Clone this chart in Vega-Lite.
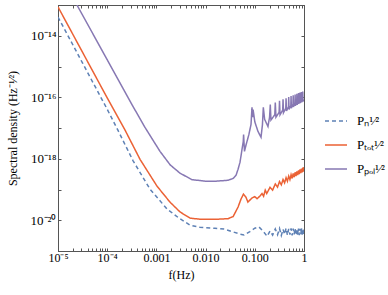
{
  "$schema": "https://vega.github.io/schema/vega-lite/v6.json",
  "width": 246,
  "height": 246,
  "autosize": {"type": "none"},
  "padding": {"left": 58, "top": 5, "right": 84, "bottom": 44},
  "background": "white",
  "config": {
    "font": "Liberation Serif",
    "view": {"stroke": "#555555", "strokeWidth": 1},
    "axis": {"grid": false, "domain": true, "domainColor": "#555555", "domainWidth": 1, "tickColor": "#555555", "labelColor": "black", "titleColor": "black", "labelFont": "Liberation Serif", "titleFont": "Liberation Serif", "labelFontSize": 12, "titleFontSize": 12, "titleFontWeight": "normal", "tickSize": -3, "labelOverlap": false, "labelFlush": false}
  },
  "data": {"values": [
    {"s": "Pn", "f": 1e-5, "P": 4.07e-14},
    {"s": "Pn", "f": 3.162e-5, "P": 1.288e-15},
    {"s": "Pn", "f": 1e-4, "P": 4.07e-17},
    {"s": "Pn", "f": 1.66e-4, "P": 8.32e-18},
    {"s": "Pn", "f": 3.34e-4, "P": 8.71e-19},
    {"s": "Pn", "f": 7.41e-4, "P": 1.023e-19},
    {"s": "Pn", "f": 1.64e-3, "P": 2.34e-20},
    {"s": "Pn", "f": 2.88e-3, "P": 1.175e-20},
    {"s": "Pn", "f": 4.82e-3, "P": 6.92e-21},
    {"s": "Pn", "f": 7.69e-3, "P": 5.89e-21},
    {"s": "Pn", "f": 1.55e-2, "P": 5.5e-21},
    {"s": "Pn", "f": 2.45e-2, "P": 5.13e-21},
    {"s": "Pn", "f": 3.47e-2, "P": 4.27e-21},
    {"s": "Pn", "f": 5.01e-2, "P": 3.55e-21},
    {"s": "Pn", "f": 6.03e-2, "P": 3.31e-21},
    {"s": "Pn", "f": 7.94e-2, "P": 4.27e-21},
    {"s": "Pn", "f": 0.1, "P": 5.5e-21},
    {"s": "Pn", "f": 0.1216, "P": 6.03e-21},
    {"s": "Pn", "f": 0.147, "P": 4.47e-21},
    {"s": "Pn", "f": 0.178, "P": 3.02e-21},
    {"s": "Pn", "f": 0.204, "P": 4.47e-21},
    {"s": "Pn", "f": 0.23, "P": 3.3e-21},
    {"s": "Pn", "f": 0.261, "P": 5.2e-21},
    {"s": "Pn", "f": 0.29, "P": 3.4e-21},
    {"s": "Pn", "f": 0.318, "P": 5.4e-21},
    {"s": "Pn", "f": 0.346, "P": 3.2e-21},
    {"s": "Pn", "f": 0.375, "P": 5.1e-21},
    {"s": "Pn", "f": 0.403, "P": 3.5e-21},
    {"s": "Pn", "f": 0.432, "P": 5.5e-21},
    {"s": "Pn", "f": 0.46, "P": 3.3e-21},
    {"s": "Pn", "f": 0.489, "P": 5.2e-21},
    {"s": "Pn", "f": 0.517, "P": 3.4e-21},
    {"s": "Pn", "f": 0.546, "P": 5.4e-21},
    {"s": "Pn", "f": 0.574, "P": 3.2e-21},
    {"s": "Pn", "f": 0.603, "P": 5.3e-21},
    {"s": "Pn", "f": 0.631, "P": 3.5e-21},
    {"s": "Pn", "f": 0.66, "P": 5.5e-21},
    {"s": "Pn", "f": 0.688, "P": 3.3e-21},
    {"s": "Pn", "f": 0.717, "P": 5.2e-21},
    {"s": "Pn", "f": 0.745, "P": 3.4e-21},
    {"s": "Pn", "f": 0.774, "P": 5.4e-21},
    {"s": "Pn", "f": 0.802, "P": 3.3e-21},
    {"s": "Pn", "f": 0.831, "P": 5.3e-21},
    {"s": "Pn", "f": 0.86, "P": 3.5e-21},
    {"s": "Pn", "f": 0.888, "P": 5.5e-21},
    {"s": "Pn", "f": 0.916, "P": 3.3e-21},
    {"s": "Pn", "f": 0.945, "P": 5.2e-21},
    {"s": "Pn", "f": 0.973, "P": 3.4e-21},
    {"s": "Pn", "f": 1.0, "P": 5.0e-21},

    {"s": "Ptot", "f": 1e-5, "P": 8.71e-14},
    {"s": "Ptot", "f": 3.162e-5, "P": 2.88e-15},
    {"s": "Ptot", "f": 1e-4, "P": 9.55e-17},
    {"s": "Ptot", "f": 2.29e-4, "P": 8.71e-18},
    {"s": "Ptot", "f": 4.65e-4, "P": 9.55e-19},
    {"s": "Ptot", "f": 1.028e-3, "P": 1.288e-19},
    {"s": "Ptot", "f": 1.888e-3, "P": 3.89e-20},
    {"s": "Ptot", "f": 3.02e-3, "P": 1.862e-20},
    {"s": "Ptot", "f": 4.82e-3, "P": 1.175e-20},
    {"s": "Ptot", "f": 7.94e-3, "P": 1.072e-20},
    {"s": "Ptot", "f": 1.585e-2, "P": 1.072e-20},
    {"s": "Ptot", "f": 2.85e-2, "P": 1.122e-20},
    {"s": "Ptot", "f": 3.63e-2, "P": 1.318e-20},
    {"s": "Ptot", "f": 4.57e-2, "P": 2.69e-20},
    {"s": "Ptot", "f": 5.25e-2, "P": 4.9e-20},
    {"s": "Ptot", "f": 5.89e-2, "P": 7.08e-20},
    {"s": "Ptot", "f": 6.61e-2, "P": 5.62e-20},
    {"s": "Ptot", "f": 7.24e-2, "P": 3.89e-20},
    {"s": "Ptot", "f": 8.71e-2, "P": 5.25e-20},
    {"s": "Ptot", "f": 0.1, "P": 5.89e-20},
    {"s": "Ptot", "f": 0.111, "P": 5.01e-20},
    {"s": "Ptot", "f": 0.126, "P": 6.03e-20},
    {"s": "Ptot", "f": 0.14, "P": 7.41e-20},
    {"s": "Ptot", "f": 0.151, "P": 6.03e-20},
    {"s": "Ptot", "f": 0.163, "P": 9.55e-20},
    {"s": "Ptot", "f": 0.175, "P": 7.41e-20},
    {"s": "Ptot", "f": 0.204, "P": 1.175e-19},
    {"s": "Ptot", "f": 0.23, "P": 9.55e-20},
    {"s": "Ptot", "f": 0.261, "P": 1.514e-19},
    {"s": "Ptot", "f": 0.29, "P": 1.202e-19},
    {"s": "Ptot", "f": 0.318, "P": 1.82e-19},
    {"s": "Ptot", "f": 0.346, "P": 1.413e-19},
    {"s": "Ptot", "f": 0.375, "P": 2.11e-19},
    {"s": "Ptot", "f": 0.403, "P": 1.64e-19},
    {"s": "Ptot", "f": 0.432, "P": 2.42e-19},
    {"s": "Ptot", "f": 0.46, "P": 1.862e-19},
    {"s": "Ptot", "f": 0.489, "P": 2.72e-19},
    {"s": "Ptot", "f": 0.517, "P": 2.09e-19},
    {"s": "Ptot", "f": 0.546, "P": 3.02e-19},
    {"s": "Ptot", "f": 0.574, "P": 2.29e-19},
    {"s": "Ptot", "f": 0.603, "P": 3.31e-19},
    {"s": "Ptot", "f": 0.631, "P": 2.51e-19},
    {"s": "Ptot", "f": 0.66, "P": 3.63e-19},
    {"s": "Ptot", "f": 0.688, "P": 2.72e-19},
    {"s": "Ptot", "f": 0.717, "P": 3.89e-19},
    {"s": "Ptot", "f": 0.745, "P": 2.95e-19},
    {"s": "Ptot", "f": 0.774, "P": 4.22e-19},
    {"s": "Ptot", "f": 0.802, "P": 3.16e-19},
    {"s": "Ptot", "f": 0.831, "P": 4.52e-19},
    {"s": "Ptot", "f": 0.86, "P": 3.39e-19},
    {"s": "Ptot", "f": 0.888, "P": 4.79e-19},
    {"s": "Ptot", "f": 0.916, "P": 3.59e-19},
    {"s": "Ptot", "f": 0.945, "P": 5.13e-19},
    {"s": "Ptot", "f": 0.973, "P": 3.8e-19},
    {"s": "Ptot", "f": 1.0, "P": 5.37e-19},

    {"s": "Ppol", "f": 2.43e-5, "P": 1.0e-13},
    {"s": "Ppol", "f": 1e-4, "P": 1.66e-15},
    {"s": "Ppol", "f": 3.162e-4, "P": 5.89e-17},
    {"s": "Ppol", "f": 5.86e-4, "P": 1.047e-17},
    {"s": "Ppol", "f": 1.183e-3, "P": 1.738e-18},
    {"s": "Ppol", "f": 1.905e-3, "P": 6.31e-19},
    {"s": "Ppol", "f": 3.02e-3, "P": 3.39e-19},
    {"s": "Ppol", "f": 5.3e-3, "P": 2.09e-19},
    {"s": "Ppol", "f": 0.01, "P": 1.862e-19},
    {"s": "Ppol", "f": 0.01585, "P": 1.862e-19},
    {"s": "Ppol", "f": 0.0285, "P": 1.995e-19},
    {"s": "Ppol", "f": 0.0363, "P": 2.29e-19},
    {"s": "Ppol", "f": 0.0417, "P": 2.95e-19},
    {"s": "Ppol", "f": 0.0457, "P": 4.57e-19},
    {"s": "Ppol", "f": 0.0501, "P": 7.76e-19},
    {"s": "Ppol", "f": 0.055, "P": 2.04e-18},
    {"s": "Ppol", "f": 0.0582, "P": 3.55e-18},
    {"s": "Ppol", "f": 0.0592, "P": 6.17e-18},
    {"s": "Ppol", "f": 0.0617, "P": 1.738e-18},
    {"s": "Ppol", "f": 0.0661, "P": 2.75e-18},
    {"s": "Ppol", "f": 0.0759, "P": 6.17e-18},
    {"s": "Ppol", "f": 0.0838, "P": 1.318e-17},
    {"s": "Ppol", "f": 0.0877, "P": 4.68e-17},
    {"s": "Ppol", "f": 0.0902, "P": 2.24e-17},
    {"s": "Ppol", "f": 0.0923, "P": 3.98e-17},
    {"s": "Ppol", "f": 0.1, "P": 1.585e-17},
    {"s": "Ppol", "f": 0.116, "P": 7.76e-18},
    {"s": "Ppol", "f": 0.1337, "P": 5.01e-18},
    {"s": "Ppol", "f": 0.1429, "P": 1.259e-17},
    {"s": "Ppol", "f": 0.149, "P": 4.68e-17},
    {"s": "Ppol", "f": 0.1585, "P": 1.905e-17},
    {"s": "Ppol", "f": 0.1854, "P": 1.122e-17},
    {"s": "Ppol", "f": 0.1995, "P": 2.24e-17},
    {"s": "Ppol", "f": 0.2065, "P": 5.75e-17},
    {"s": "Ppol", "f": 0.213, "P": 1.82e-17},
    {"s": "Ppol", "f": 0.255, "P": 2.69e-17},
    {"s": "Ppol", "f": 0.261, "P": 6.76e-17},
    {"s": "Ppol", "f": 0.269, "P": 2.25e-17},
    {"s": "Ppol", "f": 0.312, "P": 3.24e-17},
    {"s": "Ppol", "f": 0.318, "P": 7.67e-17},
    {"s": "Ppol", "f": 0.326, "P": 2.69e-17},
    {"s": "Ppol", "f": 0.369, "P": 3.8e-17},
    {"s": "Ppol", "f": 0.375, "P": 8.53e-17},
    {"s": "Ppol", "f": 0.383, "P": 3.13e-17},
    {"s": "Ppol", "f": 0.426, "P": 4.37e-17},
    {"s": "Ppol", "f": 0.432, "P": 9.35e-17},
    {"s": "Ppol", "f": 0.44, "P": 3.56e-17},
    {"s": "Ppol", "f": 0.483, "P": 4.9e-17},
    {"s": "Ppol", "f": 0.489, "P": 1.014e-16},
    {"s": "Ppol", "f": 0.497, "P": 3.99e-17},
    {"s": "Ppol", "f": 0.54, "P": 5.37e-17},
    {"s": "Ppol", "f": 0.546, "P": 1.089e-16},
    {"s": "Ppol", "f": 0.554, "P": 4.42e-17},
    {"s": "Ppol", "f": 0.597, "P": 5.96e-17},
    {"s": "Ppol", "f": 0.603, "P": 1.159e-16},
    {"s": "Ppol", "f": 0.611, "P": 4.83e-17},
    {"s": "Ppol", "f": 0.654, "P": 6.46e-17},
    {"s": "Ppol", "f": 0.66, "P": 1.23e-16},
    {"s": "Ppol", "f": 0.668, "P": 5.25e-17},
    {"s": "Ppol", "f": 0.711, "P": 7.08e-17},
    {"s": "Ppol", "f": 0.717, "P": 1.297e-16},
    {"s": "Ppol", "f": 0.725, "P": 5.66e-17},
    {"s": "Ppol", "f": 0.768, "P": 7.59e-17},
    {"s": "Ppol", "f": 0.774, "P": 1.361e-16},
    {"s": "Ppol", "f": 0.782, "P": 6.08e-17},
    {"s": "Ppol", "f": 0.825, "P": 8.13e-17},
    {"s": "Ppol", "f": 0.831, "P": 1.426e-16},
    {"s": "Ppol", "f": 0.839, "P": 6.49e-17},
    {"s": "Ppol", "f": 0.882, "P": 8.51e-17},
    {"s": "Ppol", "f": 0.888, "P": 1.489e-16},
    {"s": "Ppol", "f": 0.896, "P": 6.9e-17},
    {"s": "Ppol", "f": 0.939, "P": 9.12e-17},
    {"s": "Ppol", "f": 0.945, "P": 1.549e-16},
    {"s": "Ppol", "f": 0.953, "P": 7.31e-17},
    {"s": "Ppol", "f": 1.0, "P": 8.51e-17}
  ]},
  "layer": [
    {
      "mark": {"type": "line", "strokeWidth": 1.5, "clip": true},
      "encoding": {
        "x": {"field": "f", "type": "quantitative", "scale": {"type": "log", "domain": [0.00001, 1]},
          "axis": {"orient": "bottom", "title": "f(Hz)", "titlePadding": 6, "labelPadding": 4,
            "values": [0.00001, 0.00002, 0.00003, 0.00004, 0.00005, 0.00006, 0.00007, 0.00008, 0.00009, 0.0001, 0.0002, 0.0003, 0.0004, 0.0005, 0.0006, 0.0007, 0.0008, 0.0009, 0.001, 0.002, 0.003, 0.004, 0.005, 0.006, 0.007, 0.008, 0.009, 0.01, 0.02, 0.03, 0.04, 0.05, 0.06, 0.07, 0.08, 0.09, 0.1, 0.2, 0.3, 0.4, 0.5, 0.6, 0.7, 0.8, 0.9, 1],
            "labelExpr": "datum.value == 0.00001 ? '10⁻⁵' : datum.value == 0.0001 ? '10⁻⁴' : datum.value == 0.001 ? '0.001' : datum.value == 0.01 ? '0.010' : datum.value == 0.1 ? '0.100' : datum.value == 1 ? '1' : ''"}},
        "y": {"field": "P", "type": "quantitative", "scale": {"type": "log", "domain": [1e-21, 1e-13]},
          "axis": {"orient": "left", "title": "Spectral density (Hz⁻¹⁄²)", "titlePadding": 11, "labelPadding": 5, "labelFontSize": 13,
            "values": [1e-21, 1e-20, 1e-19, 1e-18, 1e-17, 1e-16, 1e-15, 1e-14, 1e-13],
            "labelExpr": "datum.value == 1e-14 ? '10⁻¹⁴' : datum.value == 1e-16 ? '10⁻¹⁶' : datum.value == 1e-18 ? '10⁻¹⁸' : datum.value == 1e-20 ? '10⁻²⁰' : ''"}},
        "color": {"field": "s", "type": "nominal",
          "scale": {"domain": ["Pn", "Ptot", "Ppol"], "range": ["#5E81B5", "#EB6235", "#8778B3"]},
          "legend": {"title": null, "orient": "none", "legendX": 266, "legendY": 104, "padding": 0, "symbolType": "stroke", "symbolSize": 484, "symbolStrokeWidth": 1.5, "rowPadding": 5, "labelFont": "Liberation Serif", "labelFontSize": 13, "labelOffset": 9, "labelColor": "black",
            "labelExpr": "datum.value == 'Pn' ? 'Pₙ¹⁄²' : datum.value == 'Ptot' ? 'Pₜₒₜ¹⁄²' : 'Pₚₒₗ¹⁄²'"}},
        "strokeDash": {"field": "s", "type": "nominal",
          "scale": {"domain": ["Pn", "Ptot", "Ppol"], "range": [[4, 3], [1, 0], [1, 0]]},
          "legend": {"title": null, "orient": "none", "legendX": 266, "legendY": 104, "padding": 0, "symbolType": "stroke", "symbolSize": 484, "symbolStrokeWidth": 1.5, "rowPadding": 5, "labelFont": "Liberation Serif", "labelFontSize": 13, "labelOffset": 9, "labelColor": "black",
            "labelExpr": "datum.value == 'Pn' ? 'Pₙ¹⁄²' : datum.value == 'Ptot' ? 'Pₜₒₜ¹⁄²' : 'Pₚₒₗ¹⁄²'"}}
      }
    },
    {
      "mark": {"type": "line", "opacity": 0},
      "encoding": {
        "x": {"field": "f", "type": "quantitative",
          "axis": {"orient": "top", "title": null, "labels": false,
            "values": [0.00001, 0.00002, 0.00003, 0.00004, 0.00005, 0.00006, 0.00007, 0.00008, 0.00009, 0.0001, 0.0002, 0.0003, 0.0004, 0.0005, 0.0006, 0.0007, 0.0008, 0.0009, 0.001, 0.002, 0.003, 0.004, 0.005, 0.006, 0.007, 0.008, 0.009, 0.01, 0.02, 0.03, 0.04, 0.05, 0.06, 0.07, 0.08, 0.09, 0.1, 0.2, 0.3, 0.4, 0.5, 0.6, 0.7, 0.8, 0.9, 1]}},
        "y": {"field": "P", "type": "quantitative",
          "axis": {"orient": "right", "title": null, "labels": false,
            "values": [1e-21, 1e-20, 1e-19, 1e-18, 1e-17, 1e-16, 1e-15, 1e-14, 1e-13]}},
        "detail": {"field": "s", "type": "nominal"}
      }
    }
  ],
  "resolve": {"axis": {"x": "independent", "y": "independent"}}
}
